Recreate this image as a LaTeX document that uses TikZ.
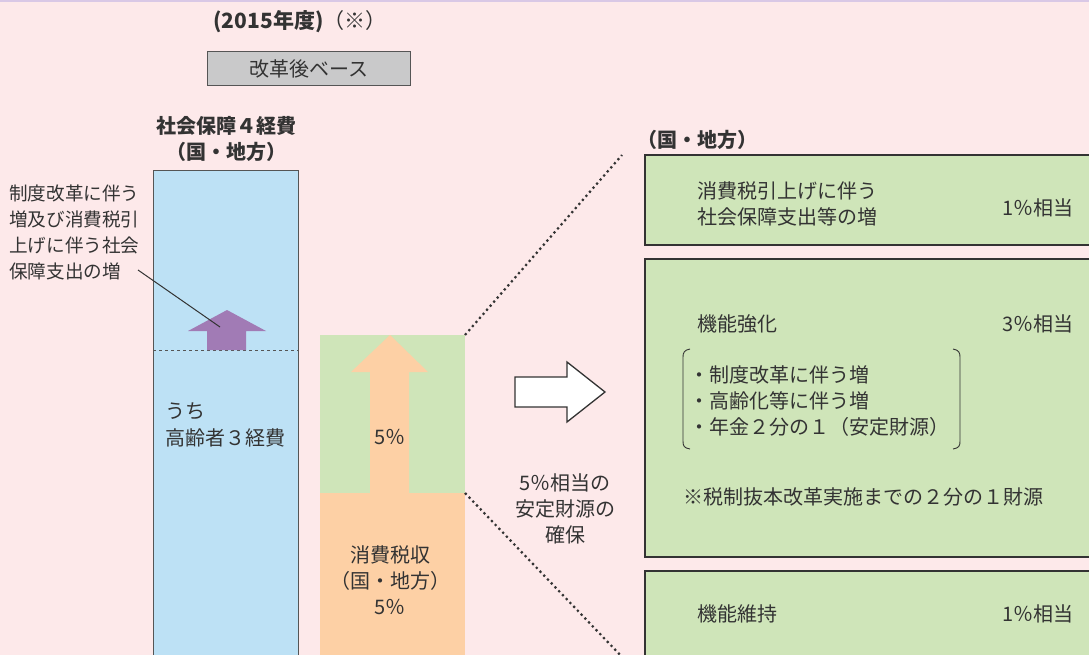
\documentclass[tikz,border=0pt]{standalone}
\usepackage{fontspec}
\setmainfont{Noto Sans CJK JP}
\definecolor{bgpink}{HTML}{FDE9EA}
\definecolor{topline}{HTML}{D9C8E6}
\definecolor{bluebar}{HTML}{BDE1F5}
\definecolor{greenbar}{HTML}{CFE5B9}
\definecolor{orangebar}{HTML}{FDD0A5}
\definecolor{purplearr}{HTML}{A17BB5}
\definecolor{graybox}{HTML}{C9C9CA}
\definecolor{txt}{HTML}{333333}
\definecolor{edge}{HTML}{555555}
\tikzset{
  lbl/.style={font=\fontsize{20}{26}\selectfont, text=txt, inner sep=0pt},
  lbls/.style={font=\fontsize{18.6}{26}\selectfont, text=txt, inner sep=0pt},
  lblb/.style={font=\fontsize{20}{26}\selectfont\bfseries, text=txt, inner sep=0pt},
  panel/.style={draw=txt, line width=1.2pt, fill=greenbar},
  dots/.style={line width=2.2pt, dash pattern=on 2.2pt off 3.2pt, txt}
}
\begin{document}
\begin{tikzpicture}[x=1pt,y=-1pt]
\useasboundingbox (0,0) rectangle (1089,655);
\clip (0,0) rectangle (1089,655);
\fill[bgpink] (0,0) rectangle (1089,655);
\fill[topline] (0,0) rectangle (1089,2);
% header
\node[lbl, font=\fontsize{21}{26}\selectfont] (year) at (300,22) {\textbf{(2015年度)}（※）};
\node[draw=edge, line width=1pt, fill=graybox, minimum width=203pt, minimum height=34pt, lbl] (base) at (308.5,69) {改革後ベース};
% left column
\node[lblb, align=center] (head) at (226,139) {社会保障４経費\\（国・地方）};
\draw[fill=bluebar, draw=edge, line width=1pt] (153,171) rectangle (298,660);
\coordinate (dl) at (153,350);
\coordinate (dr) at (298,350);
\draw[dashed, edge, line width=1pt] (dl) -- (dr);
\fill[purplearr] (227,310) -- (266,331) -- (246,331) -- (246,350) -- (207,350) -- (207,331) -- (188,331) -- cycle;
\coordinate (ptip) at (220,327);
\node[lbls, anchor=west, align=left] (note) at (9,232) {制度改革に伴う\\増及び消費税引\\上げに伴う社会\\保障支出の増};
\coordinate (nstart) at (138,270);
\draw[txt, line width=1pt] (nstart) -- (ptip);
\node[lbl, anchor=west] (uchi) at (165,411) {うち};
\node[lbl, anchor=west] (elder) at (165,438) {高齢者３経費};
% middle column
\fill[greenbar] (320,335) rectangle (465,493);
\fill[orangebar] (320,493) rectangle (465,660);
\fill[orangebar] (390,335) -- (428,372) -- (409,372) -- (409,493) -- (370,493) -- (370,372) -- (351,372) -- cycle;
\node[lbl] (five) at (390,437) {5％};
\node[lbl, align=center] (tax) at (390,580) {消費税収\\（国・地方）\\5％};
\coordinate (gtr) at (465,335);
\coordinate (gbr) at (465,493);
\coordinate (t1) at (622,155);
\coordinate (t2) at (625,660);
\draw[dots] (gtr) -- (t1);
\draw[dots] (gbr) -- (t2);
% white arrow
\draw[fill=white, draw=txt, line width=1.3pt] (515,377) -- (567,377) -- (567,362) -- (605,392) -- (567,422) -- (567,407) -- (515,407) -- cycle;
\node[lbl, align=center] (secure) at (565,509) {5％相当の\\安定財源の\\確保};
% right panels
\node[lblb, anchor=west] (kuni) at (637,140) {（国・地方）};
\draw[panel] (645,155) rectangle (1100,245);
\node[lbl, anchor=west, align=left] (p1) at (697,204) {消費税引上げに伴う\\社会保障支出等の増};
\node[lbl, anchor=east] (p1r) at (1074,208) {1％相当};
\draw[panel] (645,259) rectangle (1100,557);
\node[lbl, anchor=west] (p2) at (697,324) {機能強化};
\node[lbl, anchor=east] (p2r) at (1074,324) {3％相当};
\draw[txt, line width=0.9pt] (690,349) .. controls (684,350) and (683,353) .. (683,357) -- (683,441) .. controls (683,446) and (684,448) .. (690,449);
\draw[txt, line width=0.9pt] (953,349) .. controls (959,350) and (960,353) .. (960,357) -- (960,441) .. controls (960,446) and (959,448) .. (953,449);
\node[lbl, anchor=west, align=left] (items) at (689,401) {・制度改革に伴う増\\・高齢化等に伴う増\\・年金２分の１（安定財源）};
\node[lbl, anchor=west] (p2n) at (683,497) {※税制抜本改革実施までの２分の１財源};
\draw[panel] (645,571) rectangle (1100,680);
\node[lbl, anchor=west] (p3) at (697,614) {機能維持};
\node[lbl, anchor=east] (p3r) at (1074,614) {1％相当};
\end{tikzpicture}
\end{document}
